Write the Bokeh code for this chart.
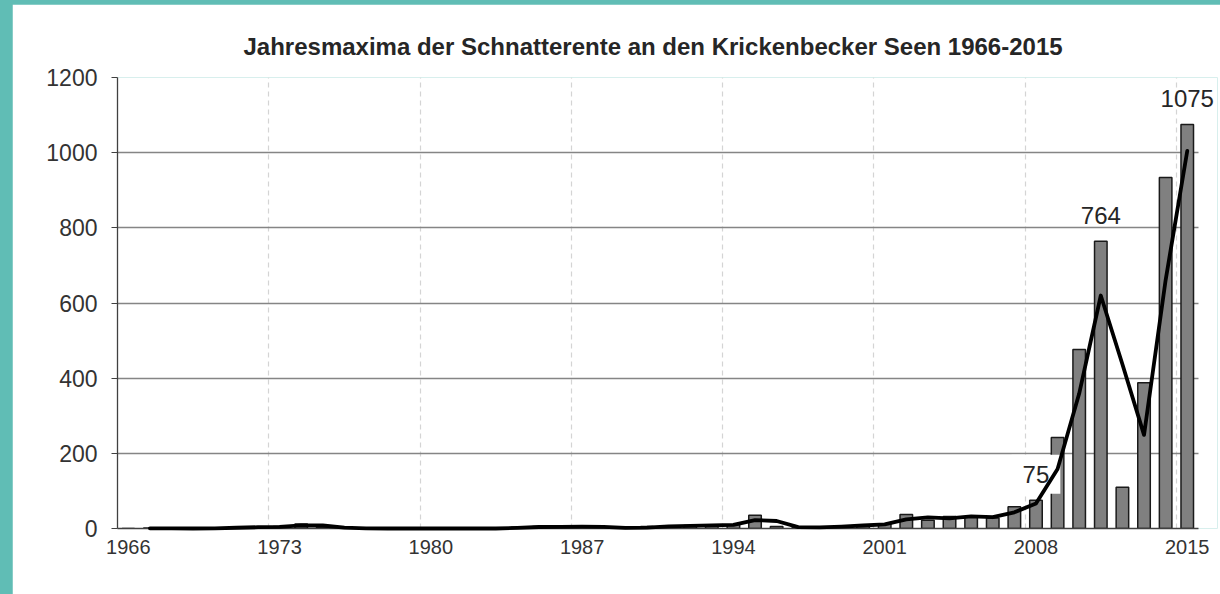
from bokeh.plotting import figure
from bokeh.models import FixedTicker, Label, Range1d, GlobalInlineStyleSheet, ColumnDataSource
from bokeh.embed import file_html
from bokeh.resources import INLINE

title_text = "Jahresmaxima der Schnatterente an den Krickenbecker Seen 1966-2015"
years = list(range(1966, 2016))
counts = [0, 1, 0, 0, 1, 3, 4, 5, 12, 4,
          1, 0, 0, 0, 0, 0, 0, 0, 3, 5,
          4, 6, 3, 0, 5, 6, 8, 9, 10, 35,
          5, 2, 4, 6, 10, 12, 37, 22, 32, 32,
          28, 58, 75, 242, 476, 764, 110, 388, 934, 1075]
tick_years = [1966, 1973, 1980, 1987, 1994, 2001, 2008, 2015]
y_ticks = [0, 200, 400, 600, 800, 1000, 1200]
label_years = [2008, 2011, 2015]

FONT = "Liberation Sans"
TEXT = "#262626"
X0, X1 = years[0], years[-1] + 1

p = figure(width=1208, height=590, x_range=Range1d(X0, X1 + 0.9), y_range=Range1d(0, 1200),
           output_backend="svg", toolbar_location=None, title=title_text,
           min_border_left=105, min_border_right=3, min_border_top=73, min_border_bottom=66)
p.stylesheets = [GlobalInlineStyleSheet(css="body{background-color:#60bdb5;margin:4px 0 0 12px;}")]
p.background_fill_color = "white"
p.border_fill_color = "white"
p.outline_line_color = None

p.title.text_font = FONT
p.title.text_font_size = "24px"
p.title.text_font_style = "bold"
p.title.text_color = TEXT
p.title.align = "left"
p.title.offset = 126
p.title.standoff = 36

# grids
p.ygrid.ticker = FixedTicker(ticks=y_ticks)
p.ygrid.grid_line_color = "#858585"
p.ygrid.grid_line_width = 1.6
p.xgrid.ticker = FixedTicker(ticks=tick_years)
p.xgrid.grid_line_color = "#d4d4d4"
p.xgrid.grid_line_width = 1.2
p.xgrid.grid_line_dash = "5 4"
try:
    p.ygrid.cross_bounds = (X0, X1)
except Exception:
    p.ygrid.grid_line_color = None
    p.segment(x0=[X0] * len(y_ticks), x1=[X1] * len(y_ticks), y0=y_ticks, y1=y_ticks,
              line_color="#858585", line_width=1.6, level="underlay")

# axes
p.yaxis.ticker = FixedTicker(ticks=y_ticks)
p.yaxis.axis_line_color = "#404040"
p.yaxis.axis_line_width = 1.3
p.yaxis.major_tick_line_color = "#404040"
p.yaxis.major_tick_in = 0
p.yaxis.major_tick_out = 6
p.yaxis.minor_tick_line_color = None
p.yaxis.major_label_standoff = 14
p.yaxis.major_label_text_font = FONT
p.yaxis.major_label_text_font_size = "23px"
p.yaxis.major_label_text_color = "#333333"

p.xaxis.ticker = FixedTicker(ticks=[y + 0.5 for y in tick_years])
p.xaxis.major_label_overrides = {y + 0.5: str(y) for y in tick_years}
p.xaxis.bounds = (X0, X1)
p.xaxis.axis_line_color = "#404040"
p.xaxis.axis_line_width = 1.3
p.xaxis.major_tick_line_color = None
p.xaxis.minor_tick_line_color = None
p.xaxis.major_label_standoff = 5
p.xaxis.major_label_text_font = FONT
p.xaxis.major_label_text_font_size = "20px"
p.xaxis.major_label_text_color = "#333333"

# bars
src = ColumnDataSource(dict(x=[y + 0.5 for y in years], top=counts))
p.vbar(x="x", top="top", width=0.58, bottom=0, source=src,
       fill_color="#808080", line_color="#1a1a1a", line_width=1.5)

# labels (75 has white box)
for yr in label_years:
    v = counts[years.index(yr)]
    lab = Label(x=yr + 0.5, y=v, text=str(v), y_offset=26, text_align="center",
                text_baseline="alphabetic", text_font=FONT, text_font_size="24px",
                text_color=TEXT, level="glyph")
    if yr == 2008:
        lab.background_fill_color = "white"
        lab.padding = 11
    p.add_layout(lab)

# moving average trendline (period 2)
ma_x = [y + 0.5 for y in years[1:]]
ma_y = [(counts[i - 1] + counts[i]) / 2 for i in range(1, len(counts))]
p.line(ma_x, ma_y, line_color="black", line_width=3.8, line_join="round", line_cap="round",
       level="overlay")

open("out.html", "w").write(file_html(p, INLINE))
